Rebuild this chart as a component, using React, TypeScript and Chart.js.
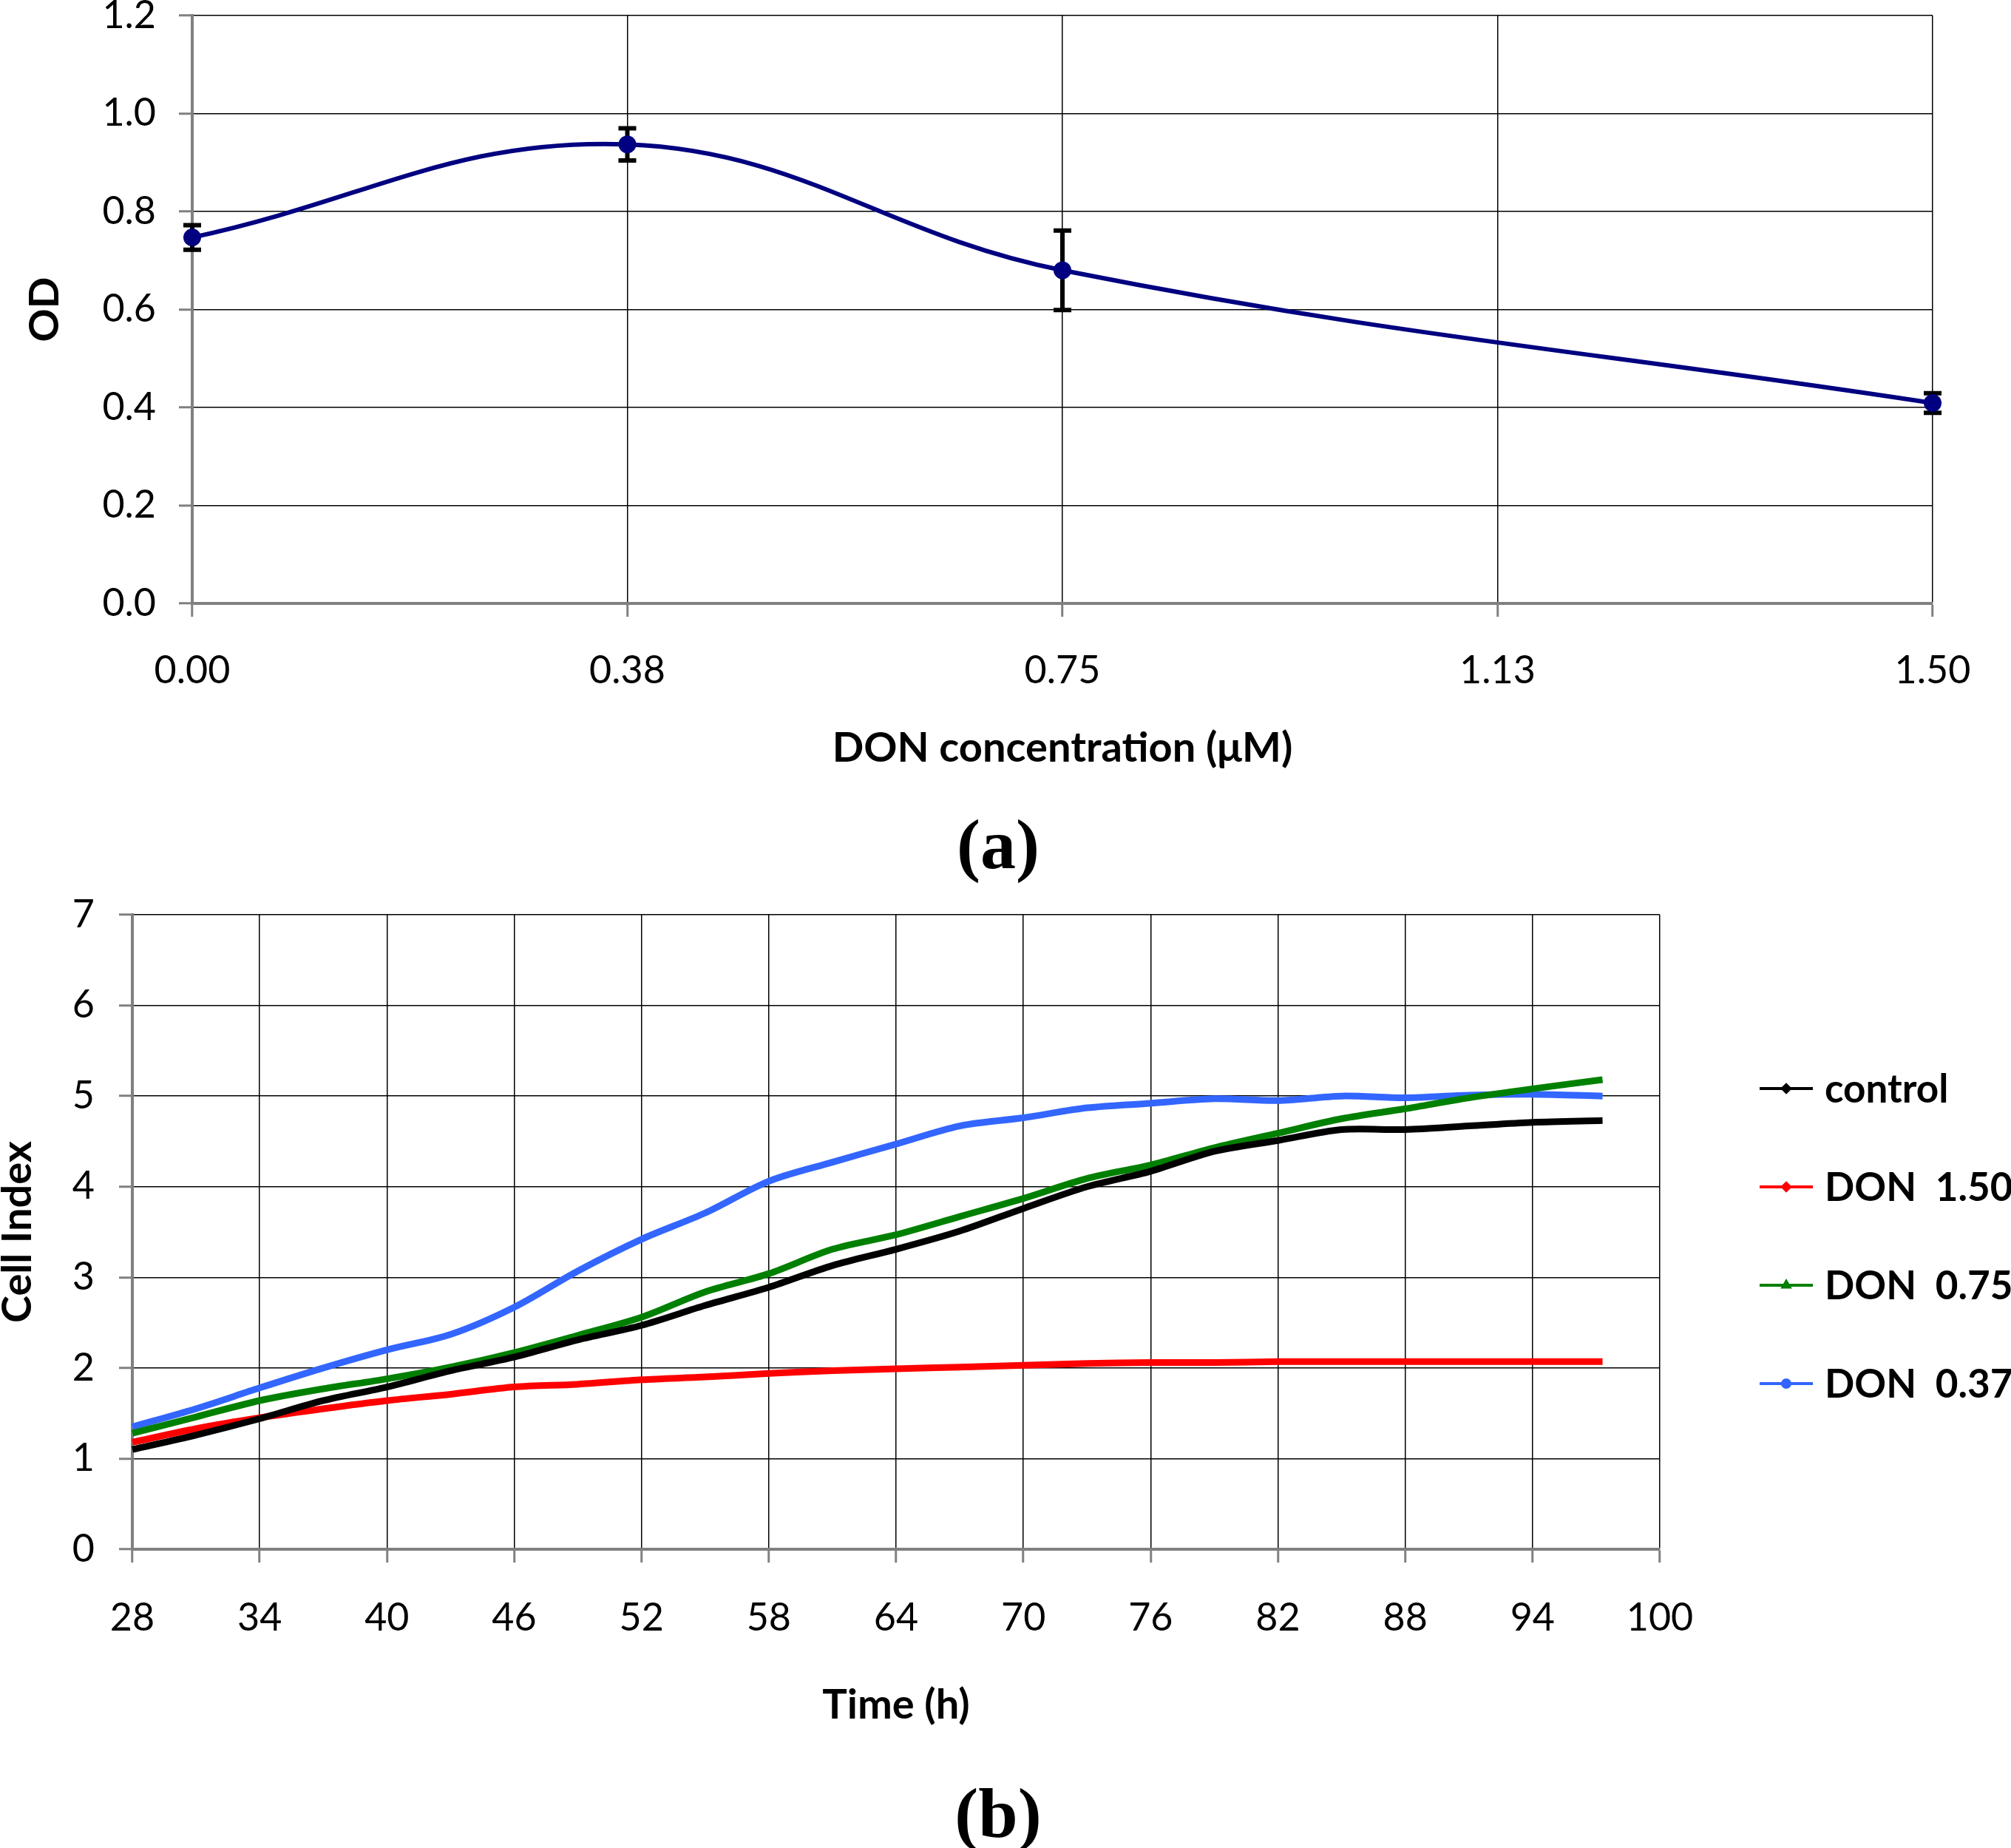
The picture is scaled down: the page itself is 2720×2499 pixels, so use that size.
import { useEffect, useRef } from "react"
import { Chart, registerables } from "chart.js"
import { drawPoint } from "chart.js/helpers"

Chart.register(...registerables)

// ---- (a) OD vs DON concentration ----
const donConc = [0, 0.375, 0.75, 1.5]
const odMean = [0.747, 0.937, 0.68, 0.409]
const odErr = [0.025, 0.033, 0.081, 0.02]
const concTicks = [0, 0.375, 0.75, 1.125, 1.5]
const concTickLabels = ["0.00", "0.38", "0.75", "1.13", "1.50"]

// ---- (b) Cell index over time ----
const hours = [28, 31, 34, 37, 40, 43, 46, 49, 52, 55, 58, 61, 64, 67, 70, 73, 76, 79, 82, 85, 88, 91, 94, 97.3]
const controlCI = [1.1, 1.26, 1.44, 1.64, 1.79, 1.97, 2.12, 2.31, 2.47, 2.69, 2.89, 3.13, 3.31, 3.51, 3.76, 4.0, 4.17, 4.39, 4.51, 4.63, 4.63, 4.67, 4.71, 4.73]
const don150CI = [1.18, 1.33, 1.45, 1.55, 1.64, 1.71, 1.79, 1.82, 1.87, 1.9, 1.94, 1.97, 1.99, 2.01, 2.03, 2.05, 2.06, 2.06, 2.07, 2.07, 2.07, 2.07, 2.07, 2.07]
const don075CI = [1.28, 1.46, 1.64, 1.77, 1.88, 2.01, 2.17, 2.36, 2.56, 2.84, 3.04, 3.31, 3.47, 3.67, 3.87, 4.09, 4.24, 4.43, 4.59, 4.75, 4.86, 4.98, 5.08, 5.18]
const don037CI = [1.35, 1.55, 1.78, 2.0, 2.2, 2.37, 2.67, 3.07, 3.42, 3.71, 4.06, 4.27, 4.47, 4.67, 4.76, 4.87, 4.92, 4.97, 4.95, 5.0, 4.98, 5.01, 5.02, 5.0]
const seriesLabels = ["control", "DON  1.50", "DON  0.75", "DON  0.37"]
const seriesColors = ["#000000", "#ff0000", "#008000", "#3366ff"]
const seriesMarkers = ["rectRot", "rectRot", "triangle", "circle"]
const timeTicks = [28, 34, 40, 46, 52, 58, 64, 70, 76, 82, 88, 94, 100]

const FONT = "Lato"
const AXIS_GRAY = "#808080"
const TICK_SIZE = 52
const TITLE_SIZE = 56

const hideAt = (v: number) => (c: any) => (c.tick && Math.abs(c.tick.value - v) < 1e-9 ? "rgba(0,0,0,0)" : "#000")

// keep tick label overhang from pushing the plot area around
const fixWidth = (w: number) => (s: any) => {
  s.width = w
  s.paddingTop = 0
  s.paddingBottom = 0
}

const errorBars = {
  id: "errorBars",
  beforeDatasetsDraw(chart: any) {
    const meta = chart.getDatasetMeta(0)
    const y = chart.scales.y
    const ctx = chart.ctx
    ctx.save()
    ctx.strokeStyle = "#000"
    ctx.lineWidth = 6
    meta.data.forEach((pt: any, i: number) => {
      const top = y.getPixelForValue(odMean[i] + odErr[i])
      const bot = y.getPixelForValue(odMean[i] - odErr[i])
      ctx.beginPath()
      ctx.moveTo(pt.x, top)
      ctx.lineTo(pt.x, bot)
      ctx.moveTo(pt.x - 12, top)
      ctx.lineTo(pt.x + 12, top)
      ctx.moveTo(pt.x - 12, bot)
      ctx.lineTo(pt.x + 12, bot)
      ctx.stroke()
    })
    ctx.restore()
  },
}

const sideLegend = {
  id: "sideLegend",
  afterDraw(chart: any) {
    const { ctx, chartArea } = chart
    const x0 = chartArea.right + 135
    ctx.save()
    chart.data.datasets.forEach((ds: any, i: number) => {
      const y = chartArea.top + 235 + i * 133
      ctx.strokeStyle = ds.borderColor
      ctx.lineWidth = 4
      ctx.beginPath()
      ctx.moveTo(x0, y)
      ctx.lineTo(x0 + 72, y)
      ctx.stroke()
      ctx.fillStyle = ds.borderColor
      drawPoint(ctx, { pointStyle: ds.pointStyle, radius: 5, rotation: 0, borderWidth: 1 }, x0 + 36, y)
      ctx.fillStyle = "#000"
      ctx.font = `bold 53px ${FONT}`
      ctx.textAlign = "left"
      ctx.textBaseline = "alphabetic"
      ctx.fillText(ds.label, x0 + 88, y + 19)
    })
    ctx.restore()
  },
}

export default function App() {
  const refA = useRef<HTMLCanvasElement>(null)
  const refB = useRef<HTMLCanvasElement>(null)

  useEffect(() => {
    let chartA: Chart | null = null
    let chartB: Chart | null = null
    let cancelled = false

    const build = () => {
      if (cancelled || !refA.current || !refB.current) return
      Chart.defaults.font.family = FONT
      Chart.defaults.color = "#000"

      chartA = new Chart(refA.current, {
        type: "line",
        data: {
          datasets: [
            {
              data: donConc.map((x, i) => ({ x, y: odMean[i] })),
              borderColor: "#000080",
              backgroundColor: "#000080",
              borderWidth: 6,
              pointRadius: 12,
              pointBorderWidth: 0,
              tension: 0.4,
              clip: false,
            },
          ],
        },
        options: {
          responsive: false,
          devicePixelRatio: 1,
          animation: false,
          layout: { padding: { top: 21, right: 106, left: 0, bottom: 0 } },
          plugins: { legend: { display: false }, tooltip: { enabled: false } },
          scales: {
            x: {
              type: "linear",
              min: 0,
              max: 1.5,
              afterBuildTicks: (s: any) => {
                s.ticks = concTicks.map((v) => ({ value: v }))
              },
              afterFit: (s: any) => {
                s.height = 264
              },
              ticks: {
                callback: (_v: any, i: number) => concTickLabels[i],
                font: { size: TICK_SIZE },
                padding: 42,
                maxRotation: 0,
              },
              grid: { color: hideAt(0), lineWidth: 1.5, tickColor: AXIS_GRAY, tickLength: 18, tickWidth: 3 },
              border: { color: AXIS_GRAY, width: 4 },
              title: {
                display: true,
                text: "DON concentration (\u03bcM)",
                font: { size: TITLE_SIZE, weight: "bold", lineHeight: 1 },
                padding: { top: 0, bottom: 40 },
              },
            },
            y: {
              min: 0,
              max: 1.2,
              ticks: { stepSize: 0.2, callback: (v: any) => Number(v).toFixed(1), font: { size: TICK_SIZE }, padding: 31 },
              afterFit: fixWidth(260),
              grid: { color: hideAt(0), lineWidth: 1.5, tickColor: AXIS_GRAY, tickLength: 18, tickWidth: 3 },
              border: { color: AXIS_GRAY, width: 4 },
              title: {
                display: true,
                text: "OD",
                font: { size: TITLE_SIZE, weight: "bold", lineHeight: 1 },
                padding: { top: 33, bottom: 0 },
              },
            },
          },
        },
        plugins: [errorBars],
      } as any)

      const seriesData = [controlCI, don150CI, don075CI, don037CI]
      chartB = new Chart(refB.current, {
        type: "line",
        data: {
          datasets: seriesData.map((vals, k) => ({
            label: seriesLabels[k],
            data: hours.map((x, i) => ({ x, y: vals[i] })),
            borderColor: seriesColors[k],
            backgroundColor: seriesColors[k],
            pointStyle: seriesMarkers[k],
            borderWidth: 9,
            pointRadius: 0,
            tension: 0.3,
            clip: false,
          })),
        },
        options: {
          responsive: false,
          devicePixelRatio: 1,
          animation: false,
          layout: { padding: { top: 77, right: 475, left: 0, bottom: 0 } },
          plugins: { legend: { display: false }, tooltip: { enabled: false } },
          scales: {
            x: {
              type: "linear",
              min: 28,
              max: 100,
              afterBuildTicks: (s: any) => {
                s.ticks = timeTicks.map((v) => ({ value: v }))
              },
              afterFit: (s: any) => {
                s.height = 404
              },
              ticks: { font: { size: TICK_SIZE }, padding: 44, maxRotation: 0 },
              grid: { color: hideAt(28), lineWidth: 1.5, tickColor: AXIS_GRAY, tickLength: 18, tickWidth: 3 },
              border: { color: AXIS_GRAY, width: 4 },
              title: {
                display: true,
                text: "Time (h)",
                font: { size: TITLE_SIZE, weight: "bold", lineHeight: 1 },
                padding: { top: 0, bottom: 165 },
              },
            },
            y: {
              min: 0,
              max: 7,
              ticks: { stepSize: 1, font: { size: TICK_SIZE }, padding: 33 },
              afterFit: fixWidth(179),
              grid: { color: hideAt(0), lineWidth: 1.5, tickColor: AXIS_GRAY, tickLength: 18, tickWidth: 3 },
              border: { color: AXIS_GRAY, width: 4 },
              title: {
                display: true,
                text: "Cell Index",
                font: { size: TITLE_SIZE, weight: "bold", lineHeight: 1 },
                padding: { top: -4, bottom: 0 },
              },
            },
          },
        },
        plugins: [sideLegend],
      } as any)
    }

    const fonts = (document as any).fonts
    if (fonts && fonts.load) {
      Promise.all([fonts.load(`50px ${FONT}`), fonts.load(`bold 50px ${FONT}`)])
        .catch(() => null)
        .then(build)
    } else {
      build()
    }

    return () => {
      cancelled = true
      if (chartA) chartA.destroy()
      if (chartB) chartB.destroy()
    }
  }, [])

  const panelLabel: React.CSSProperties = {
    position: "absolute",
    left: 1350,
    transform: "translate(-50%, -50%)",
    fontFamily: "'Liberation Serif', 'Times New Roman', serif",
    fontWeight: "bold",
    fontSize: 96,
    lineHeight: 1,
    color: "#000",
    whiteSpace: "nowrap",
  }

  return (
    <div style={{ position: "absolute", left: 0, top: 0, width: 2720, height: 2499, background: "#fff", overflow: "hidden" }}>
      <canvas ref={refA} width={2720} height={1080} style={{ position: "absolute", left: 0, top: 0 }} />
      <canvas ref={refB} width={2720} height={1339} style={{ position: "absolute", left: 0, top: 1160 }} />
      <div style={{ ...panelLabel, top: 1142 }}>(a)</div>
      <div style={{ ...panelLabel, top: 2452 }}>(b)</div>
    </div>
  )
}
